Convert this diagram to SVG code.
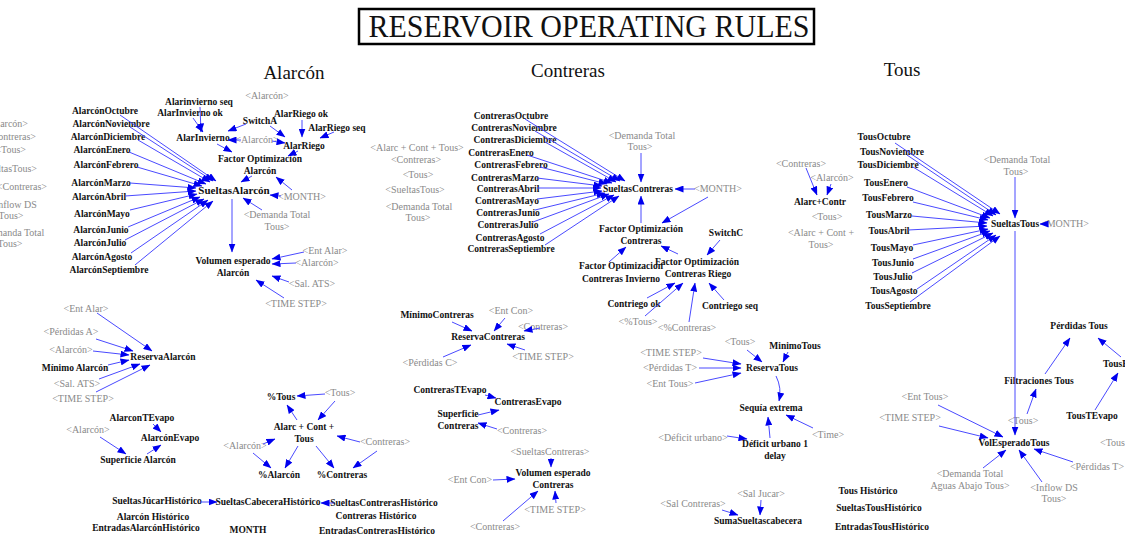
<svg xmlns="http://www.w3.org/2000/svg" width="1125" height="540" viewBox="0 0 1125 540">
<defs>
<style>
text{font-family:"Liberation Serif","Times New Roman",serif}
.v{font-size:9.5px;font-weight:bold;fill:#111;text-anchor:middle}
.s{font-size:10px;fill:#8a8a8a;text-anchor:middle}
.se{font-size:10px;fill:#8a8a8a;text-anchor:end}
.st{font-size:10px;fill:#8a8a8a}
.h{font-size:19px;fill:#111;text-anchor:middle}
.L line,.L path{stroke:#4a4aff;stroke-width:1;fill:none;marker-end:url(#ah)}
</style>
<marker id="ah" markerUnits="userSpaceOnUse" markerWidth="9" markerHeight="7" refX="8.5" refY="3.5" orient="auto">
<path d="M0,0 L9,3.5 L0,7 z" fill="#0000ee"/>
</marker>
</defs>
<rect width="1125" height="540" fill="#fff"/>

<!-- heading -->
<g id="title">
<rect x="359" y="9" width="455" height="35" fill="#fff" stroke="#000" stroke-width="2.5"/>
<text x="589" y="37" font-size="31" fill="#111" text-anchor="middle" textLength="441" lengthAdjust="spacingAndGlyphs">RESERVOIR OPERATING RULES</text>
</g>
<g id="hd-alarcon"><text class="h" x="294" y="79">Alarcón</text></g>
<g id="hd-contreras"><text class="h" x="568" y="77">Contreras</text></g>
<g id="hd-tous"><text class="h" x="902" y="76">Tous</text></g>

<!-- shadow variables at the left margin -->
<g id="sh-l1"><text class="se" x="28" y="127">&lt;Alarcón&gt;</text></g>
<g id="sh-l2"><text class="se" x="36" y="140">&lt;Contreras&gt;</text></g>
<g id="sh-l3"><text class="se" x="26" y="153">&lt;Tous&gt;</text></g>
<g id="sh-l4"><text class="se" x="37" y="172">&lt;SueltasTous&gt;</text></g>
<g id="sh-l5"><text class="se" x="47" y="190">&lt;Contreras&gt;</text></g>
<g id="sh-l6"><text class="s" x="13" y="208">&lt;Inflow DS</text><text class="s" x="11" y="219">Tous&gt;</text></g>
<g id="sh-l7"><text class="s" x="11" y="236">&lt;Demanda Total</text><text class="s" x="10" y="247">Tous&gt;</text></g>

<!-- Alarcón monthly releases -->
<g id="a-oct"><text class="v" x="105" y="113.5">AlarcónOctubre</text></g>
<g id="a-nov"><text class="v" x="111" y="126.5">AlarcónNoviembre</text></g>
<g id="a-dic"><text class="v" x="108" y="139.5">AlarcónDiciembre</text></g>
<g id="a-ene"><text class="v" x="102" y="152.5">AlarcónEnero</text></g>
<g id="a-feb"><text class="v" x="106" y="167.5">AlarcónFebrero</text></g>
<g id="a-mar"><text class="v" x="101" y="185.5">AlarcónMarzo</text></g>
<g id="a-abr"><text class="v" x="99" y="199.5">AlarcónAbril</text></g>
<g id="a-may"><text class="v" x="102" y="216.5">AlarcónMayo</text></g>
<g id="a-jun"><text class="v" x="101" y="232.5">AlarcónJunio</text></g>
<g id="a-jul"><text class="v" x="100" y="245.5">AlarcónJulio</text></g>
<g id="a-ago"><text class="v" x="102" y="259.5">AlarcónAgosto</text></g>
<g id="a-sep"><text class="v" x="109" y="272.5">AlarcónSeptiembre</text></g>

<g id="sueltas-alarcon"><text class="v" x="234" y="194" style="font-size:11px">SueltasAlarcón</text></g>
<g id="alarinv-seq"><text class="v" x="199" y="105">Alarinvierno seq</text></g>
<g id="alarinv-ok"><text class="v" x="190" y="116">AlarInvierno ok</text></g>
<g id="alarinv"><text class="v" x="203" y="141">AlarInvierno</text></g>
<g id="switcha"><text class="v" x="260" y="124">SwitchA</text></g>
<g id="sh-alarcon-top"><text class="s" x="267" y="99">&lt;Alarcón&gt;</text></g>
<g id="alarriego-ok"><text class="v" x="301" y="117">AlarRiego ok</text></g>
<g id="alarriego-seq"><text class="v" x="337" y="131">AlarRiego seq</text></g>
<g id="sh-alarcon-mid"><text class="s" x="257" y="143">&lt;Alarcón&gt;</text></g>
<g id="alarriego"><text class="v" x="304" y="149">AlarRiego</text></g>
<g id="fo-alarcon"><text class="v" x="260" y="162">Factor Optimización</text><text class="v" x="260" y="174">Alarcón</text></g>
<g id="sh-month-a"><text class="s" x="302" y="200">&lt;MONTH&gt;</text></g>
<g id="sh-dem-a"><text class="s" x="277" y="218">&lt;Demanda Total</text><text class="s" x="277" y="230">Tous&gt;</text></g>
<g id="vol-alarcon"><text class="v" x="233" y="264">Volumen esperado</text><text class="v" x="233" y="276">Alarcón</text></g>
<g id="sh-entalar-a"><text class="s" x="325" y="254">&lt;Ent Alar&gt;</text></g>
<g id="sh-alarcon-v"><text class="s" x="317" y="266">&lt;Alarcón&gt;</text></g>
<g id="sh-salats-v"><text class="s" x="312" y="287">&lt;Sal. ATS&gt;</text></g>
<g id="sh-ts-v"><text class="s" x="296" y="307">&lt;TIME STEP&gt;</text></g>

<!-- Alarcón storage -->
<g id="sh-entalar-r"><text class="s" x="86" y="312">&lt;Ent Alar&gt;</text></g>
<g id="sh-perdA"><text class="s" x="71" y="335">&lt;Pérdidas A&gt;</text></g>
<g id="sh-alarcon-r"><text class="s" x="71" y="353">&lt;Alarcón&gt;</text></g>
<g id="min-alarcon"><text class="v" x="75" y="371">Mínimo Alarcón</text></g>
<g id="sh-salats-r"><text class="s" x="77" y="387">&lt;Sal. ATS&gt;</text></g>
<g id="sh-ts-r"><text class="s" x="83" y="402">&lt;TIME STEP&gt;</text></g>
<g id="reserva-alarcon"><text class="v" x="163" y="360">ReservaAlarcón</text></g>
<g id="alarcon-tevapo"><text class="v" x="142" y="421">AlarconTEvapo</text></g>
<g id="alarcon-evapo"><text class="v" x="170" y="441">AlarcónEvapo</text></g>
<g id="sh-alarcon-e"><text class="s" x="88" y="433">&lt;Alarcón&gt;</text></g>
<g id="sup-alarcon"><text class="v" x="138" y="463">Superficie Alarcón</text></g>

<!-- historical series -->
<g id="sj-hist"><text class="v" x="157" y="504">SueltasJúcarHistórico</text></g>
<g id="scab-hist"><text class="v" x="268" y="505">SueltasCabeceraHistórico</text></g>
<g id="alarcon-hist"><text class="v" x="153" y="520">Alarcón Histórico</text></g>
<g id="ent-alarcon-hist"><text class="v" x="146" y="531">EntradasAlarcónHistórico</text></g>
<g id="month"><text class="v" x="248" y="533">MONTH</text></g>
<g id="scon-hist"><text class="v" x="384" y="506">SueltasContrerasHistórico</text></g>
<g id="con-hist"><text class="v" x="376" y="519">Contreras Histórico</text></g>
<g id="ent-con-hist"><text class="v" x="377" y="534">EntradasContrerasHistórico</text></g>

<!-- shares of the joint storage -->
<g id="pct-tous"><text class="v" x="281" y="400">%Tous</text></g>
<g id="sh-tous-p"><text class="s" x="340" y="396">&lt;Tous&gt;</text></g>
<g id="act"><text class="v" x="304" y="430">Alarc + Cont +</text><text class="v" x="304" y="442">Tous</text></g>
<g id="sh-alarcon-p"><text class="s" x="245" y="449">&lt;Alarcón&gt;</text></g>
<g id="sh-contreras-p"><text class="s" x="385" y="445">&lt;Contreras&gt;</text></g>
<g id="pct-alarcon"><text class="v" x="279" y="478">%Alarcón</text></g>
<g id="pct-contreras"><text class="v" x="342" y="478">%Contreras</text></g>

<!-- free shadow list -->
<g id="sh-m1"><text class="s" x="417" y="151">&lt;Alarc + Cont + Tous&gt;</text></g>
<g id="sh-m2"><text class="s" x="416" y="163">&lt;Contreras&gt;</text></g>
<g id="sh-m3"><text class="s" x="418" y="178">&lt;Tous&gt;</text></g>
<g id="sh-m4"><text class="s" x="415" y="193">&lt;SueltasTous&gt;</text></g>
<g id="sh-m5"><text class="s" x="419" y="210">&lt;Demanda Total</text><text class="s" x="418" y="221">Tous&gt;</text></g>

<!-- Contreras monthly releases -->
<g id="c-oct"><text class="v" x="511" y="118.5">ContrerasOctubre</text></g>
<g id="c-nov"><text class="v" x="514" y="130.5">ContrerasNoviembre</text></g>
<g id="c-dic"><text class="v" x="515" y="142.5">ContrerasDiciembre</text></g>
<g id="c-ene"><text class="v" x="501" y="155.5">ContrerasEnero</text></g>
<g id="c-feb"><text class="v" x="511" y="167.5">ContrerasFebrero</text></g>
<g id="c-mar"><text class="v" x="505" y="180.5">ContrerasMarzo</text></g>
<g id="c-abr"><text class="v" x="508" y="191.5">ContrerasAbril</text></g>
<g id="c-may"><text class="v" x="507" y="203.5">ContrerasMayo</text></g>
<g id="c-jun"><text class="v" x="508" y="215.5">ContrerasJunio</text></g>
<g id="c-jul"><text class="v" x="508" y="227.5">ContrerasJulio</text></g>
<g id="c-ago"><text class="v" x="510" y="240.5">ContrerasAgosto</text></g>
<g id="c-sep"><text class="v" x="511" y="251.5">ContrerasSeptiembre</text></g>

<g id="sueltas-contreras"><text class="v" x="638" y="191.5">SueltasContreras</text></g>
<g id="sh-dem-c"><text class="s" x="642" y="139">&lt;Demanda Total</text><text class="s" x="640" y="150">Tous&gt;</text></g>
<g id="sh-month-c"><text class="s" x="718" y="192">&lt;MONTH&gt;</text></g>
<g id="fo-contreras"><text class="v" x="641" y="232">Factor Optimización</text><text class="v" x="641" y="244">Contreras</text></g>
<g id="fo-con-inv"><text class="v" x="621" y="269">Factor Optimizacion</text><text class="v" x="621" y="282">Contreras Invierno</text></g>
<g id="switchc"><text class="v" x="726" y="236">SwitchC</text></g>
<g id="fo-con-riego"><text class="v" x="697" y="265">Factor Optimización</text><text class="v" x="698" y="277">Contreras Riego</text></g>
<g id="contriego-ok"><text class="v" x="634" y="307">Contriego ok</text></g>
<g id="sh-pcttous"><text class="s" x="638" y="325">&lt;%Tous&gt;</text></g>
<g id="sh-pctcon"><text class="s" x="687" y="331">&lt;%Contreras&gt;</text></g>
<g id="contriego-seq"><text class="v" x="730" y="309">Contriego seq</text></g>

<!-- Contreras storage -->
<g id="min-contreras"><text class="v" x="437" y="318">MínimoContreras</text></g>
<g id="sh-entcon-r"><text class="s" x="511" y="314">&lt;Ent Con&gt;</text></g>
<g id="sh-con-r"><text class="s" x="543" y="330">&lt;Contreras&gt;</text></g>
<g id="reserva-contreras"><text class="v" x="488" y="340">ReservaContreras</text></g>
<g id="sh-perdC"><text class="s" x="430" y="366">&lt;Pérdidas C&gt;</text></g>
<g id="sh-ts-c"><text class="s" x="543" y="360">&lt;TIME STEP&gt;</text></g>
<g id="con-tevapo"><text class="v" x="450" y="393">ContrerasTEvapo</text></g>
<g id="con-evapo"><text class="v" x="528" y="405">ContrerasEvapo</text></g>
<g id="sup-con"><text class="v" x="458" y="417">Superficie</text><text class="v" x="458" y="429">Contreras</text></g>
<g id="sh-con-e"><text class="s" x="522" y="434">&lt;Contreras&gt;</text></g>
<g id="sh-scon"><text class="s" x="550" y="455">&lt;SueltasContreras&gt;</text></g>
<g id="vol-con"><text class="v" x="553" y="476">Volumen esperado</text><text class="v" x="553" y="488">Contreras</text></g>
<g id="sh-entcon-v"><text class="s" x="470" y="483">&lt;Ent Con&gt;</text></g>
<g id="sh-ts-cv"><text class="s" x="555" y="513">&lt;TIME STEP&gt;</text></g>
<g id="sh-con-v"><text class="s" x="495" y="530">&lt;Contreras&gt;</text></g>

<!-- Tous storage and drought -->
<g id="sh-tous-rt"><text class="s" x="740" y="345">&lt;Tous&gt;</text></g>
<g id="min-tous"><text class="v" x="795" y="349">MinimoTous</text></g>
<g id="sh-ts-rt"><text class="s" x="671" y="356">&lt;TIME STEP&gt;</text></g>
<g id="sh-perdT-rt"><text class="s" x="670" y="371">&lt;Pérdidas T&gt;</text></g>
<g id="sh-enttous-rt"><text class="s" x="670" y="387">&lt;Ent Tous&gt;</text></g>
<g id="reserva-tous"><text class="v" x="772" y="371">ReservaTous</text></g>
<g id="sequia"><text class="v" x="771" y="411">Sequía extrema</text></g>
<g id="sh-time"><text class="s" x="828" y="438">&lt;Time&gt;</text></g>
<g id="deficit-delay"><text class="v" x="775" y="447">Déficit urbano 1</text><text class="v" x="775" y="459">delay</text></g>
<g id="sh-deficit"><text class="s" x="693" y="441">&lt;Déficit urbano&gt;</text></g>
<g id="sh-saljucar"><text class="s" x="761" y="497">&lt;Sal Jucar&gt;</text></g>
<g id="sh-salcon"><text class="s" x="693" y="507">&lt;Sal Contreras&gt;</text></g>
<g id="suma-cab"><text class="v" x="758" y="524">SumaSueltascabecera</text></g>

<!-- Tous block -->
<g id="sh-con-ac"><text class="s" x="801" y="167">&lt;Contreras&gt;</text></g>
<g id="sh-alarcon-ac"><text class="s" x="832" y="181">&lt;Alarcón&gt;</text></g>
<g id="alarc-contr"><text class="v" x="820" y="205">Alarc+Contr</text></g>
<g id="sh-tous-ac"><text class="s" x="827" y="220">&lt;Tous&gt;</text></g>
<g id="sh-act-t"><text class="s" x="821" y="236">&lt;Alarc + Cont +</text><text class="s" x="821" y="248">Tous&gt;</text></g>

<g id="t-oct"><text class="v" x="884" y="139.5">TousOctubre</text></g>
<g id="t-nov"><text class="v" x="892" y="154.5">TousNoviembre</text></g>
<g id="t-dic"><text class="v" x="888" y="167.5">TousDiciembre</text></g>
<g id="t-ene"><text class="v" x="886" y="185.5">TousEnero</text></g>
<g id="t-feb"><text class="v" x="888" y="200.5">TousFebrero</text></g>
<g id="t-mar"><text class="v" x="889" y="217.5">TousMarzo</text></g>
<g id="t-abr"><text class="v" x="889" y="233.5">TousAbril</text></g>
<g id="t-may"><text class="v" x="892" y="250.5">TousMayo</text></g>
<g id="t-jun"><text class="v" x="893" y="265.5">TousJunio</text></g>
<g id="t-jul"><text class="v" x="893" y="279.5">TousJulio</text></g>
<g id="t-ago"><text class="v" x="894" y="293.5">TousAgosto</text></g>
<g id="t-sep"><text class="v" x="898" y="308.5">TousSeptiembre</text></g>

<g id="sueltas-tous"><text class="v" x="1015" y="227">SueltasTous</text></g>
<g id="sh-dem-t"><text class="s" x="1017" y="163">&lt;Demanda Total</text><text class="s" x="1016" y="175">Tous&gt;</text></g>
<g id="sh-month-t"><text class="s" x="1065" y="227">&lt;MONTH&gt;</text></g>
<g id="perdidas-tous"><text class="v" x="1079" y="329">Pérdidas Tous</text></g>
<g id="filt-tous"><text class="v" x="1039" y="384">Filtraciones Tous</text></g>
<g id="tous-evapo"><text class="v" x="1103" y="367" style="text-anchor:start">TousEvapo</text></g>
<g id="tous-tevapo"><text class="v" x="1092" y="419">TousTEvapo</text></g>
<g id="sh-tous-f"><text class="s" x="1023" y="424">&lt;Tous&gt;</text></g>
<g id="sh-enttous-v"><text class="s" x="925" y="400">&lt;Ent Tous&gt;</text></g>
<g id="sh-ts-tv"><text class="s" x="910" y="421">&lt;TIME STEP&gt;</text></g>
<g id="vol-tous"><text class="v" x="1014" y="446">VolEsperadoTous</text></g>
<g id="sh-tous-r"><text class="st" x="1100" y="446">&lt;Tous&gt;</text></g>
<g id="sh-perdT-v"><text class="s" x="1097" y="470">&lt;Pérdidas T&gt;</text></g>
<g id="sh-dem-aa"><text class="s" x="970" y="477">&lt;Demanda Total</text><text class="s" x="970" y="489">Aguas Abajo Tous&gt;</text></g>
<g id="sh-inflow"><text class="s" x="1054" y="491">&lt;Inflow DS</text><text class="s" x="1054" y="502">Tous&gt;</text></g>
<g id="tous-hist"><text class="v" x="868" y="494">Tous Histórico</text></g>
<g id="stous-hist"><text class="v" x="879" y="511">SueltasTousHistórico</text></g>
<g id="ent-tous-hist"><text class="v" x="882" y="530">EntradasTousHistórico</text></g>

<!-- causal links -->
<g id="links" class="L">
<line x1="120" y1="115" x2="216" y2="181"/>
<line x1="130" y1="127" x2="213" y2="181"/>
<line x1="138" y1="140" x2="210" y2="182"/>
<line x1="129" y1="152" x2="206" y2="184"/>
<line x1="137" y1="167" x2="202" y2="186"/>
<line x1="130" y1="183" x2="196" y2="188"/>
<line x1="125" y1="196" x2="196" y2="191"/>
<line x1="130" y1="210" x2="197" y2="194"/>
<line x1="128" y1="227" x2="200" y2="197"/>
<line x1="125" y1="240" x2="204" y2="199"/>
<line x1="131" y1="253" x2="208" y2="200"/>
<line x1="135" y1="265" x2="213" y2="201"/>
<line x1="200" y1="107" x2="201" y2="132"/>
<line x1="193" y1="118" x2="203" y2="132"/>
<line x1="246" y1="124" x2="228" y2="131"/>
<line x1="241" y1="140" x2="228" y2="140"/>
<line x1="272" y1="141" x2="285" y2="143"/>
<line x1="302" y1="120" x2="302" y2="137"/>
<line x1="334" y1="132" x2="320" y2="138"/>
<line x1="270" y1="126" x2="285" y2="137"/>
<line x1="217" y1="144" x2="232" y2="152"/>
<line x1="298" y1="151" x2="288" y2="156"/>
<line x1="252" y1="176" x2="241" y2="182"/>
<line x1="292" y1="190" x2="276" y2="177"/>
<line x1="281" y1="196" x2="270" y2="195"/>
<line x1="262" y1="210" x2="243" y2="198"/>
<line x1="232" y1="199" x2="232" y2="252"/>
<line x1="304" y1="252" x2="272" y2="259"/>
<line x1="296" y1="263" x2="272" y2="264"/>
<line x1="289" y1="282" x2="272" y2="276"/>
<line x1="284" y1="298" x2="256" y2="280"/>
<line x1="97" y1="313" x2="152" y2="351"/>
<line x1="96" y1="339" x2="133" y2="351"/>
<line x1="93" y1="351" x2="129" y2="355"/>
<line x1="108" y1="365" x2="129" y2="360"/>
<line x1="99" y1="379" x2="140" y2="364"/>
<line x1="96" y1="392" x2="150" y2="365"/>
<line x1="153" y1="424" x2="161" y2="432"/>
<line x1="100" y1="437" x2="126" y2="454"/>
<line x1="147" y1="454" x2="161" y2="445"/>
<line x1="200" y1="502" x2="217" y2="502"/>
<line x1="334" y1="503" x2="321" y2="503"/>
<line x1="325" y1="394" x2="297" y2="396"/>
<line x1="335" y1="401" x2="318" y2="420"/>
<line x1="297" y1="420" x2="287" y2="405"/>
<line x1="263" y1="444" x2="275" y2="439"/>
<line x1="360" y1="442" x2="337" y2="436"/>
<line x1="253" y1="453" x2="271" y2="468"/>
<line x1="298" y1="446" x2="285" y2="468"/>
<line x1="316" y1="446" x2="334" y2="468"/>
<line x1="377" y1="451" x2="353" y2="468"/>
<line x1="525" y1="119" x2="625" y2="181"/>
<line x1="535" y1="131" x2="620" y2="181"/>
<line x1="545" y1="142" x2="616" y2="182"/>
<line x1="527" y1="155" x2="612" y2="183"/>
<line x1="540" y1="167" x2="607" y2="184"/>
<line x1="537" y1="178" x2="602" y2="186"/>
<line x1="537" y1="188" x2="601" y2="188"/>
<line x1="537" y1="199" x2="602" y2="191"/>
<line x1="535" y1="210" x2="605" y2="193"/>
<line x1="533" y1="222" x2="609" y2="194"/>
<line x1="540" y1="234" x2="614" y2="195"/>
<line x1="545" y1="245" x2="619" y2="196"/>
<line x1="641" y1="153" x2="641" y2="182"/>
<line x1="695" y1="189" x2="675" y2="189"/>
<line x1="641" y1="223" x2="641" y2="196"/>
<line x1="708" y1="197" x2="662" y2="223"/>
<line x1="609" y1="262" x2="626" y2="247"/>
<line x1="720" y1="240" x2="707" y2="255"/>
<line x1="678" y1="254" x2="661" y2="246"/>
<line x1="647" y1="298" x2="675" y2="283"/>
<line x1="645" y1="316" x2="683" y2="283"/>
<line x1="689" y1="322" x2="695" y2="283"/>
<line x1="724" y1="300" x2="709" y2="283"/>
<line x1="452" y1="322" x2="472" y2="331"/>
<line x1="505" y1="318" x2="494" y2="331"/>
<line x1="540" y1="328" x2="524" y2="331"/>
<line x1="443" y1="357" x2="471" y2="345"/>
<line x1="525" y1="350" x2="507" y2="344"/>
<line x1="485" y1="395" x2="496" y2="398"/>
<line x1="478" y1="415" x2="499" y2="410"/>
<line x1="497" y1="429" x2="478" y2="423"/>
<line x1="551" y1="458" x2="551" y2="467"/>
<line x1="493" y1="480" x2="515" y2="479"/>
<line x1="556" y1="503" x2="555" y2="491"/>
<line x1="503" y1="521" x2="538" y2="491"/>
<line x1="747" y1="350" x2="762" y2="362"/>
<line x1="788" y1="352" x2="783" y2="362"/>
<line x1="703" y1="358" x2="741" y2="364"/>
<line x1="699" y1="368" x2="741" y2="368"/>
<line x1="695" y1="383" x2="741" y2="373"/>
<path d="M776,376 Q782,388 779,401"/>
<line x1="813" y1="428" x2="786" y2="415"/>
<line x1="770" y1="438" x2="768" y2="417"/>
<line x1="727" y1="436" x2="747" y2="439"/>
<line x1="761" y1="500" x2="760" y2="515"/>
<line x1="722" y1="510" x2="738" y2="515"/>
<line x1="806" y1="168" x2="817" y2="195"/>
<line x1="831" y1="184" x2="827" y2="195"/>
<line x1="895" y1="143" x2="1000" y2="214"/>
<line x1="907" y1="155" x2="996" y2="215"/>
<line x1="913" y1="167" x2="993" y2="216"/>
<line x1="907" y1="187" x2="990" y2="218"/>
<line x1="913" y1="202" x2="988" y2="220"/>
<line x1="912" y1="216" x2="987" y2="223"/>
<line x1="908" y1="230" x2="987" y2="226"/>
<line x1="913" y1="245" x2="988" y2="229"/>
<line x1="913" y1="259" x2="990" y2="231"/>
<line x1="912" y1="273" x2="993" y2="233"/>
<line x1="917" y1="289" x2="996" y2="235"/>
<line x1="910" y1="302" x2="1000" y2="236"/>
<line x1="1015" y1="177" x2="1015" y2="218"/>
<line x1="1046" y1="224" x2="1040" y2="224"/>
<line x1="1015" y1="231" x2="1015" y2="435"/>
<line x1="1045" y1="374" x2="1070" y2="338"/>
<line x1="1121" y1="357" x2="1098" y2="338"/>
<line x1="1095" y1="410" x2="1118" y2="373"/>
<line x1="1027" y1="414" x2="1036" y2="389"/>
<line x1="938" y1="405" x2="1003" y2="437"/>
<line x1="939" y1="426" x2="988" y2="438"/>
<line x1="1073" y1="462" x2="1034" y2="449"/>
<line x1="983" y1="468" x2="1006" y2="450"/>
<line x1="1042" y1="482" x2="1019" y2="450"/>
</g>
</svg>
